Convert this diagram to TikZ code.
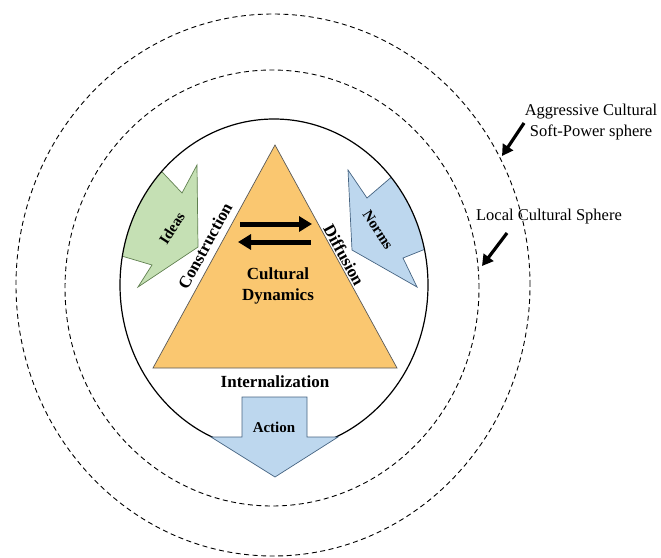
\documentclass[tikz,border=0pt]{standalone}
\usepackage{fontspec}
\setmainfont{Liberation Serif}
\usepackage{tikz}
\usetikzlibrary{arrows.meta}

\definecolor{dynfill}{RGB}{250,199,112}
\definecolor{ideafill}{RGB}{197,224,180}
\definecolor{idealine}{RGB}{96,128,80}
\definecolor{normfill}{RGB}{189,215,238}
\definecolor{normline}{RGB}{70,100,130}

\begin{document}
\begin{tikzpicture}[x=1pt, y=-1pt,
    sphere/.style={draw, dash pattern=on 5pt off 3.5pt, line width=0.9pt},
    culture/.style={draw, line width=1.2pt},
    ideashape/.style={fill=ideafill, draw=idealine, line width=0.7pt, line join=miter},
    normshape/.style={fill=normfill, draw=normline, line width=0.7pt, line join=miter},
    side/.style={font=\bfseries\fontsize{17}{21}\selectfont, inner sep=0pt},
    tag/.style={font=\bfseries\fontsize{15}{18}\selectfont, inner sep=0pt},
    note/.style={font=\fontsize{16.5}{21}\selectfont, align=center, inner sep=0pt},
    flow/.style={line width=5pt, -{Triangle[length=13pt,width=15pt]}},
    pointer/.style={line width=3.2pt, -{Triangle[length=11pt,width=12pt]}}]

\useasboundingbox (0,0) rectangle (661,557);

\coordinate (ctr) at (274,285);
\draw[sphere] (273,285) ellipse [x radius=257pt, y radius=271pt];
\draw[sphere] (272,288) ellipse [x radius=207pt, y radius=218pt];

\begin{scope}
  \clip (ctr) ellipse [x radius=154pt, y radius=166pt];
  \filldraw[ideashape] (148,157) -- (182,193) -- (197,165) -- (198,247)
    -- (138,287) -- (152,265) -- (98,249) -- cycle;
  \filldraw[normshape] (409,162) -- (367,198) -- (348,170) -- (352,250)
    -- (417,287) -- (403,258) -- (443,242) -- cycle;
\end{scope}
\draw[culture] (ctr) ellipse [x radius=154pt, y radius=166pt];

\filldraw[normshape] (242,397) -- (307,397) -- (307,437) -- (338,437)
  -- (275,477) -- (211,437) -- (242,437) -- cycle;

\filldraw[fill=dynfill, draw=black!65, line width=0.7pt]
  (275,145) coordinate (apex) -- (397,368) coordinate (baseR)
  -- (153,368) coordinate (baseL) -- cycle;

\node[tag, rotate=57] (ideas) at (172,228) {Ideas};
\node[tag, rotate=-57] (norms) at (378,230) {Norms};
\node[tag] (action) at (274,427) {Action};

\node[side, rotate=61.5] (constr) at (205,246) {Construction};
\node[side, rotate=-61.5] (diff) at (344,255) {Diffusion};
\node[side] (intern) at (275,382) {Internalization};
\node[side, align=center] (dyn) at (278,286) {Cultural\\Dynamics};

\coordinate (fwdA) at (240,224);
\coordinate (fwdB) at (312,224);
\coordinate (bckA) at (311,242);
\coordinate (bckB) at (238,242);
\draw[flow] (fwdA) -- (fwdB);
\draw[flow] (bckA) -- (bckB);

\node[note] (agg) at (591,122) {Aggressive Cultural\\Soft-Power sphere};
\node[note] (local) at (549,217) {Local Cultural Sphere};

\coordinate (aggTail) at (524,123);
\coordinate (aggTip) at (502,156);
\coordinate (localTail) at (507,233);
\coordinate (localTip) at (482,266);
\draw[pointer] (aggTail) -- (aggTip);
\draw[pointer] (localTail) -- (localTip);
\end{tikzpicture}
\end{document}
